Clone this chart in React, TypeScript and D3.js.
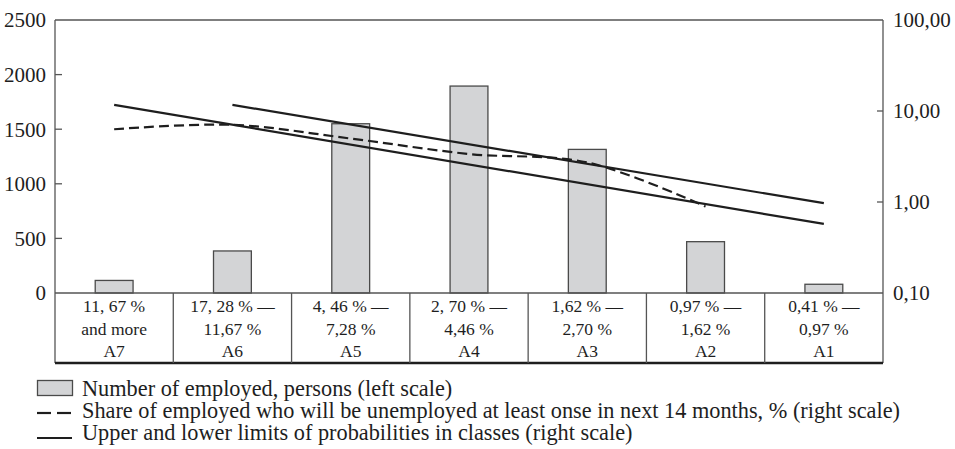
import React from "react";
import * as d3 from "d3";

const categories = ["A7", "A6", "A5", "A4", "A3", "A2", "A1"];
const classLabels = [
  ["11, 67 %", "and more", "A7"],
  ["17, 28 % —", "11,67 %", "A6"],
  ["4, 46 % —", "7,28 %", "A5"],
  ["2, 70 % —", "4,46 %", "A4"],
  ["1,62 % —", "2,70 %", "A3"],
  ["0,97 % —", "1,62 %", "A2"],
  ["0,41 % —", "0,97 %", "A1"],
];
const employed = [115, 385, 1550, 1895, 1315, 470, 80];
const shareCats = ["A7", "A6", "A5", "A4", "A3", "A2"];
const shareValues = [6.3, 7.05, 4.98, 3.37, 2.72, 0.89];
const upperCats = ["A6", "A1"];
const upperValues = [11.67, 0.97];
const lowerCats = ["A7", "A1"];
const lowerValues = [11.67, 0.574];
const leftTicks = [0, 500, 1000, 1500, 2000, 2500];
const rightTicks = [0.1, 1, 10, 100];
const rightTickLabels = ["0,10", "1,00", "10,00", "100,00"];
const legendItems = [
  "Number of employed, persons (left scale)",
  "Share of employed who will be unemployed at least onse in next 14 months, % (right scale)",
  "Upper and lower limits of probabilities in classes (right scale)",
];

const FONT = "'Liberation Serif', 'Times New Roman', serif";

export default function App() {
  const left = 55, right = 883, top = 20, base = 293, tableBottom = 363;
  const x = d3.scaleBand<string>().domain(categories).range([left, right]).paddingInner(0).paddingOuter(0);
  const yL = d3.scaleLinear().domain([0, 2500]).range([base, top]);
  const yR = d3.scaleLog().domain([0.1, 100]).range([base, top]);
  const bw = x.bandwidth() * 0.32;
  const cx = (c: string) => (x(c) as number) + x.bandwidth() / 2;

  const shareLine = d3
    .line<number>()
    .x((_, i) => cx(shareCats[i]))
    .y((d) => yR(d))
    .curve(d3.curveCatmullRom.alpha(0.5));
  const upperLine = d3.line<number>().x((_, i) => cx(upperCats[i])).y((d) => yR(d));
  const lowerLine = d3.line<number>().x((_, i) => cx(lowerCats[i])).y((d) => yR(d));

  const axisColor = "#555";
  const ink = "#1e1e1e";

  return (
    <svg width={955} height={449} style={{ position: "absolute", left: 0, top: 0, background: "#fff" }} fontFamily={FONT}>
      <rect x={0} y={0} width={955} height={449} fill="#fff" />
      {/* bars */}
      {employed.map((v, i) => (
        <rect
          key={categories[i]}
          x={cx(categories[i]) - bw / 2}
          y={yL(v)}
          width={bw}
          height={base - yL(v)}
          fill="#d3d4d6"
          stroke="#4a4a4a"
          strokeWidth={1.3}
        />
      ))}
      {/* frame */}
      <line x1={left} x2={right} y1={top} y2={top} stroke={axisColor} strokeWidth={1.3} />
      <line x1={left} x2={right} y1={base} y2={base} stroke={axisColor} strokeWidth={1.3} />
      <line x1={left} x2={left} y1={top} y2={tableBottom} stroke={axisColor} strokeWidth={1.3} />
      <line x1={right} x2={right} y1={top} y2={tableBottom} stroke={axisColor} strokeWidth={1.3} />
      <line x1={left} x2={right} y1={tableBottom} y2={tableBottom} stroke={ink} strokeWidth={2.5} />
      {categories.slice(1).map((c) => (
        <line key={c} x1={x(c)} x2={x(c)} y1={base} y2={tableBottom} stroke={axisColor} strokeWidth={1.3} />
      ))}
      {/* left ticks */}
      {leftTicks.map((t) => (
        <g key={t}>
          {t > 0 && t < 2500 && (
            <line x1={left} x2={left + 7} y1={yL(t)} y2={yL(t)} stroke={axisColor} strokeWidth={1.3} />
          )}
          <text x={46} y={yL(t)} dy="0.35em" textAnchor="end" fontSize={21} fill={ink}>
            {t}
          </text>
        </g>
      ))}
      {/* right ticks */}
      {rightTicks.map((t, i) => (
        <g key={t}>
          {t > 0.1 && t < 100 && (
            <line x1={right - 6} x2={right} y1={yR(t)} y2={yR(t)} stroke={axisColor} strokeWidth={1.3} />
          )}
          <text x={893} y={yR(t)} dy="0.35em" textAnchor="start" fontSize={21} fill={ink}>
            {rightTickLabels[i]}
          </text>
        </g>
      ))}
      {/* class labels */}
      {classLabels.map((lines, i) => (
        <text key={i} x={cx(categories[i])} textAnchor="middle" fontSize={17.5} fill={ink}>
          {lines.map((l, j) => (
            <tspan key={j} x={cx(categories[i])} y={312 + j * 22.5}>
              {l}
            </tspan>
          ))}
        </text>
      ))}
      {/* lines */}
      <path d={upperLine(upperValues) || ""} fill="none" stroke={ink} strokeWidth={2.2} />
      <path d={lowerLine(lowerValues) || ""} fill="none" stroke={ink} strokeWidth={2.2} />
      <path d={shareLine(shareValues) || ""} fill="none" stroke={ink} strokeWidth={2.2} strokeDasharray="10,5" />
      {/* legend */}
      <rect x={37.5} y={380.5} width={35} height={15} fill="#d3d4d6" stroke="#4a4a4a" strokeWidth={1.3} />
      <line x1={37} x2={51} y1={413} y2={413} stroke={ink} strokeWidth={2.2} />
      <line x1={57} x2={71} y1={413} y2={413} stroke={ink} strokeWidth={2.2} />
      <line x1={37} x2={72} y1={438} y2={438} stroke={ink} strokeWidth={2.2} />
      {legendItems.map((t, i) => (
        <text key={i} x={82} y={396 + i * 22} fontSize={22.3} fill={ink}>
          {t}
        </text>
      ))}
    </svg>
  );
}
